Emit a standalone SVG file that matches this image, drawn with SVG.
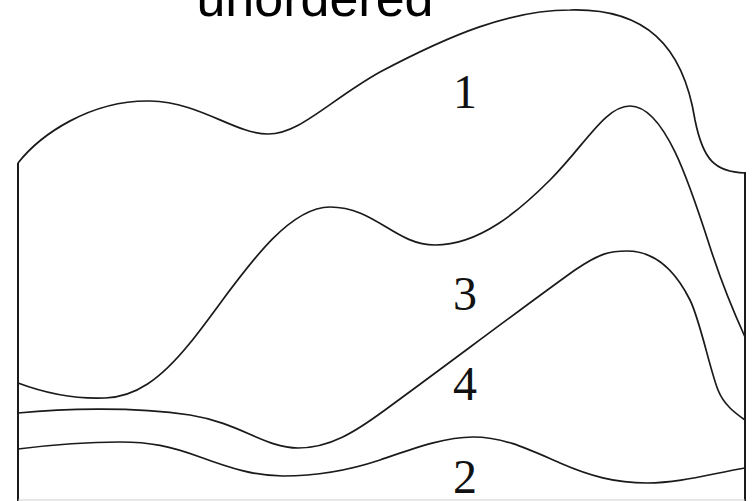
<svg xmlns="http://www.w3.org/2000/svg" width="755" height="501" viewBox="0 0 755 501">
<style>
.c{fill:none;stroke:#1a1a1a;stroke-width:1.7;stroke-linejoin:round}
.b{fill:none;stroke:#1a1a1a;stroke-width:2}
.lab{font-family:"Liberation Serif","Times New Roman",serif;font-size:48px;fill:#111;text-anchor:middle}
.title{font-family:"Liberation Sans",Arial,sans-serif;font-size:52px;fill:#000;text-anchor:middle}
</style>
<rect width="755" height="501" fill="#fff"/>
<text class="title" x="315" y="16">unordered</text>
<g id="boundaries">
<line class="b" x1="18" y1="163" x2="18" y2="501"/>
<line class="b" x1="745" y1="172" x2="745" y2="501"/>
<line x1="18" y1="500" x2="745" y2="500" stroke="#cfcfcf" stroke-width="1"/>
</g>
<g id="curves">
<path class="c" d="M18,163 C40,135 90,100 150,101 C200,102 235,134 268,134 C300,134 330,100 380,72 C450,35 510,10 570,10 C645,8 683,45 695,120 C703,160 715,172 745,173"/>
<path class="c" d="M18,383 C50,395 80,399 105,398 C135,397 160,380 190,343 C230,294 280,207 330,207 C375,207 395,245 435,245 C480,245 520,210 550,180 C585,145 605,106 630,106 C665,106 690,185 710,247 C720,278 735,315 745,337"/>
<path class="c" d="M18,413 C60,409 130,406 190,415 C240,423 265,448 298,448 C330,448 355,432 385,410 C440,370 530,302 575,270 C600,253 610,251 627,251 C655,251 675,270 690,300 C700,320 710,370 718,390 C724,405 735,413 745,420"/>
<path class="c" d="M18,449 C50,445 90,442 120,442 C150,442 170,446 200,457 C230,468 255,476 283,476 C320,476 350,470 380,460 C415,448 445,437 473,437 C505,437 530,450 560,463 C590,476 615,483 647,483 C680,483 710,474 745,468"/>
</g>
<g id="labels">
<text id="label-1" class="lab" x="465" y="108">1</text>
<text id="label-3" class="lab" x="465" y="310">3</text>
<text id="label-4" class="lab" x="465" y="400">4</text>
<text id="label-2" class="lab" x="465" y="493">2</text>
</g>
</svg>
